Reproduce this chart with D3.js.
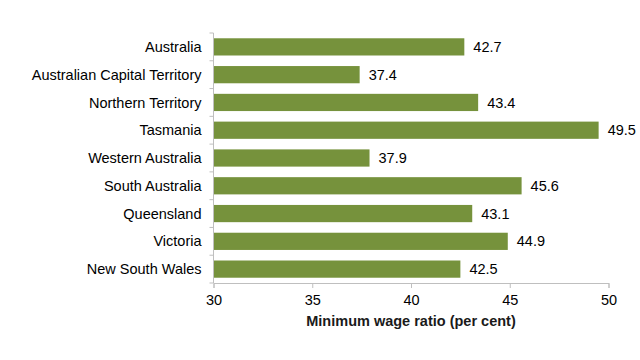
<!DOCTYPE html>
<html><head><meta charset="utf-8">
<script src="https://cdn.jsdelivr.net/npm/d3@7"></script>
<style>body{margin:0;background:#fff}svg{display:block}text{font-family:"Liberation Sans",Arial,sans-serif}</style>
</head><body>
<svg id="c" width="640" height="360"></svg>
<script>
const categories = ["Australia","Australian Capital Territory","Northern Territory","Tasmania","Western Australia","South Australia","Queensland","Victoria","New South Wales"];
const values = [42.7,37.4,43.4,49.5,37.9,45.6,43.1,44.9,42.5];
const xTicks = [30,35,40,45,50];
const xTitle = "Minimum wage ratio (per cent)";

const svg = d3.select("#c");
const fs = 14.5;
const m = {left:213.5, right:608.5, top:33, bottom:283};
const x = d3.scaleLinear().domain([30,50]).range([m.left,m.right]);
const y = d3.scaleBand().domain(categories).range([m.top,m.bottom]).paddingInner(0.38).paddingOuter(0.19);
const axisColor = "#bfbfbf";

// bars
svg.selectAll("rect.bar").data(values).enter().append("rect")
  .attr("x", x(30)).attr("y",(d,i)=>y(categories[i]))
  .attr("width", d=>x(d)-x(30)).attr("height", y.bandwidth())
  .attr("fill","#76923c");

// value labels
svg.selectAll("text.val").data(values).enter().append("text")
  .attr("x", d=>x(d)+9).attr("y",(d,i)=>y(categories[i])+y.bandwidth()/2)
  .attr("dy","0.35em").attr("font-size",fs).attr("fill","#000")
  .text(d=>d.toFixed(1));

// y axis
const yAxisG = svg.append("g");
yAxisG.append("line").attr("x1",m.left).attr("x2",m.left).attr("y1",m.top).attr("y2",m.bottom).attr("stroke",axisColor);
const bounds = d3.range(categories.length+1).map(i=>m.top + i*(m.bottom-m.top)/categories.length);
yAxisG.selectAll("line.t").data(bounds).enter().append("line")
  .attr("x1",m.left-4).attr("x2",m.left).attr("y1",d=>d).attr("y2",d=>d).attr("stroke",axisColor);
yAxisG.selectAll("text").data(categories).enter().append("text")
  .attr("x",m.left-12).attr("y",d=>y(d)+y.bandwidth()/2).attr("dy","0.35em")
  .attr("text-anchor","end").attr("font-size",fs).attr("fill","#000").text(d=>d);

// x axis
const xAxis = d3.axisBottom(x).tickValues(xTicks).tickSize(5).tickPadding(7).tickFormat(d3.format("d"));
const gx = svg.append("g").attr("transform",`translate(0,${m.bottom})`).call(xAxis);
gx.select(".domain").attr("stroke",axisColor);
gx.selectAll(".tick line").attr("stroke",axisColor);
gx.selectAll(".tick text").attr("font-size",fs).attr("fill","#000").attr("font-family","Liberation Sans, Arial, sans-serif");

svg.append("text").attr("x",(m.left+m.right)/2).attr("y",326).attr("text-anchor","middle")
  .attr("font-size",fs).attr("font-weight","bold").attr("fill","#1a1a1a").text(xTitle);
</script>
</body></html>
